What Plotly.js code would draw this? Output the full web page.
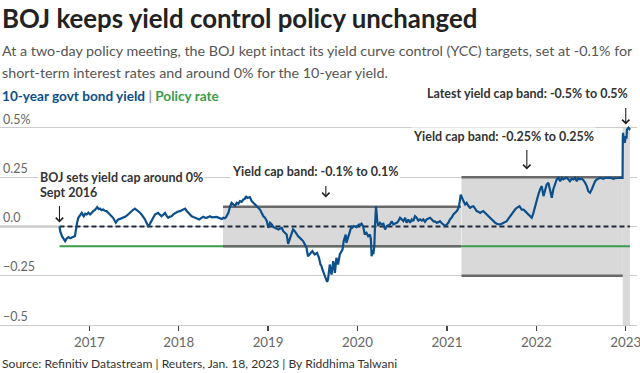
<!DOCTYPE html>
<html>
<head>
<meta charset="utf-8">
<script src="https://cdn.plot.ly/plotly-3.0.1.min.js"></script>
<style>
  html, body { margin: 0; padding: 0; background: #fff; }
  #chart { width: 640px; height: 373px; }
</style>
</head>
<body>
<div id="chart"></div>
<script>
// ---- Data ----
const yieldDates = [
'2016-09-01','2016-09-04','2016-09-11','2016-09-18','2016-09-24','2016-10-01','2016-10-08','2016-10-15','2016-10-21','2016-10-28',
'2016-11-03','2016-11-07','2016-11-12','2016-11-17','2016-11-24','2016-12-01','2016-12-09','2016-12-15','2016-12-21','2016-12-28',
'2017-01-04','2017-01-10','2017-01-17','2017-01-25','2017-02-02','2017-02-08','2017-02-13','2017-02-20','2017-02-27','2017-03-05',
'2017-03-12','2017-03-19','2017-03-26','2017-04-02','2017-04-08','2017-04-14','2017-04-19','2017-04-24','2017-04-29','2017-05-09',
'2017-05-19','2017-05-29','2017-06-08','2017-06-15','2017-06-22','2017-06-29','2017-07-06','2017-07-13','2017-07-20','2017-07-27',
'2017-08-02','2017-08-09','2017-08-16','2017-08-22','2017-08-29','2017-09-05','2017-09-12','2017-09-19','2017-09-26','2017-10-02',
'2017-10-09','2017-10-16','2017-10-23','2017-10-30','2017-11-06','2017-11-12','2017-11-19','2017-11-26','2017-12-03','2017-12-10',
'2017-12-17','2017-12-27','2018-01-06','2018-01-15','2018-01-27','2018-02-02','2018-02-09','2018-02-16','2018-02-23','2018-03-02',
'2018-03-09','2018-03-17','2018-03-26','2018-04-04','2018-04-11','2018-04-18','2018-04-25','2018-05-02','2018-05-09','2018-05-16',
'2018-05-22','2018-05-29','2018-06-05','2018-06-12','2018-06-19','2018-06-26','2018-07-02','2018-07-08','2018-07-13','2018-07-23',
'2018-07-30','2018-08-05','2018-08-12','2018-08-19','2018-08-26','2018-09-02','2018-09-08','2018-09-15','2018-09-22','2018-09-28',
'2018-10-03','2018-10-08','2018-10-12','2018-10-19','2018-10-26','2018-11-02','2018-11-09','2018-11-16','2018-11-22','2018-11-29',
'2018-12-06','2018-12-13','2018-12-20','2018-12-27','2019-01-02','2019-01-09','2019-01-16','2019-01-23','2019-01-29','2019-02-05',
'2019-02-12','2019-02-19','2019-02-26','2019-03-04','2019-03-11','2019-03-18','2019-03-24','2019-03-31','2019-04-07','2019-04-13',
'2019-04-20','2019-04-27','2019-05-04','2019-05-11','2019-05-17','2019-05-24','2019-05-31','2019-06-07','2019-06-13','2019-06-20',
'2019-06-26','2019-07-01','2019-07-06','2019-07-11','2019-07-20','2019-07-28','2019-08-03','2019-08-07','2019-08-11','2019-08-16',
'2019-08-21','2019-08-25','2019-08-30','2019-09-03','2019-09-06','2019-09-10','2019-09-14','2019-09-17','2019-09-21','2019-09-24',
'2019-09-28','2019-10-01','2019-10-04','2019-10-07','2019-10-11','2019-10-14','2019-10-18','2019-10-21','2019-10-26','2019-11-01',
'2019-11-06','2019-11-10','2019-11-14','2019-11-17','2019-11-20','2019-11-24','2019-11-28','2019-12-01','2019-12-05','2019-12-08',
'2019-12-12','2019-12-17','2019-12-22','2019-12-28','2020-01-03','2020-01-08','2020-01-13','2020-01-18','2020-01-24','2020-01-27',
'2020-01-31','2020-02-07','2020-02-14','2020-02-21','2020-02-25','2020-02-28','2020-03-03','2020-03-06','2020-03-10','2020-03-13',
'2020-03-17','2020-03-22','2020-03-26','2020-04-02','2020-04-09','2020-04-16','2020-04-23','2020-04-30','2020-05-07','2020-05-13',
'2020-05-20','2020-05-27','2020-06-03','2020-06-10','2020-06-16','2020-06-23','2020-06-30','2020-07-07','2020-07-14','2020-07-20',
'2020-07-27','2020-08-03','2020-08-10','2020-08-16','2020-08-23','2020-08-30','2020-09-06','2020-09-13','2020-09-20','2020-09-26',
'2020-10-03','2020-10-10','2020-10-17','2020-10-24','2020-10-31','2020-11-06','2020-11-13','2020-11-20','2020-11-27','2020-12-03',
'2020-12-10','2020-12-17','2020-12-24','2020-12-31','2021-01-07','2021-01-13','2021-01-20','2021-01-27','2021-02-03','2021-02-10',
'2021-02-15','2021-02-19','2021-02-26','2021-03-02','2021-03-09','2021-03-16','2021-03-22','2021-03-29','2021-04-05','2021-04-12',
'2021-04-19','2021-04-26','2021-05-02','2021-05-09','2021-05-16','2021-05-22','2021-05-29','2021-06-05','2021-06-12','2021-06-19',
'2021-06-26','2021-07-02','2021-07-09','2021-07-16','2021-07-23','2021-07-30','2021-08-05','2021-08-12','2021-08-19','2021-08-26',
'2021-09-02','2021-09-09','2021-09-16','2021-09-23','2021-09-29','2021-10-06','2021-10-13','2021-10-19','2021-10-24','2021-11-02',
'2021-11-09','2021-11-16','2021-11-23','2021-11-30','2021-12-06','2021-12-13','2021-12-20','2021-12-27','2022-01-02','2022-01-09',
'2022-01-16','2022-01-23','2022-01-30','2022-02-06','2022-02-12','2022-02-19','2022-02-26','2022-03-05','2022-03-11','2022-03-18',
'2022-03-25','2022-04-01','2022-04-08','2022-04-15','2022-04-21','2022-04-28','2022-05-05','2022-05-11','2022-05-18','2022-05-25',
'2022-06-01','2022-06-08','2022-06-15','2022-06-21','2022-06-28','2022-07-05','2022-07-12','2022-07-19','2022-07-26','2022-08-01',
'2022-08-08','2022-08-15','2022-08-22','2022-08-29','2022-09-05','2022-09-11','2022-09-18','2022-09-25','2022-10-02','2022-10-08',
'2022-10-15','2022-10-22','2022-10-29','2022-11-05','2022-11-12','2022-11-19','2022-11-25','2022-12-02','2022-12-09','2022-12-16',
'2022-12-19','2022-12-20','2022-12-21','2022-12-24','2022-12-28','2023-01-01','2023-01-04','2023-01-06','2023-01-10','2023-01-12',
'2023-01-16','2023-01-18'
];
const yieldValues = [
0.000,-0.024,-0.049,-0.060,-0.074,-0.060,-0.054,-0.060,-0.058,-0.052,
-0.049,-0.007,0.020,0.044,0.060,0.069,0.052,0.065,0.061,0.070,
0.061,0.070,0.078,0.085,0.098,0.088,0.091,0.083,0.086,0.080,
0.078,0.070,0.061,0.050,0.044,0.030,0.019,0.028,0.036,0.040,
0.044,0.050,0.061,0.070,0.078,0.085,0.091,0.085,0.078,0.070,
0.061,0.050,0.036,0.020,0.002,0.012,0.027,0.045,0.061,0.065,
0.069,0.060,0.052,0.060,0.069,0.055,0.044,0.050,0.052,0.062,
0.069,0.075,0.078,0.085,0.091,0.080,0.069,0.060,0.052,0.048,
0.044,0.040,0.036,0.044,0.049,0.045,0.044,0.048,0.052,0.046,
0.047,0.045,0.049,0.045,0.041,0.038,0.044,0.042,0.047,0.069,
0.103,0.120,0.112,0.105,0.120,0.115,0.129,0.125,0.137,0.140,
0.154,0.145,0.146,0.149,0.129,0.120,0.110,0.103,0.095,0.086,
0.069,0.052,0.044,0.027,-0.007,0.019,0.010,-0.003,-0.007,-0.010,
-0.015,-0.010,-0.007,-0.024,-0.035,-0.041,-0.088,-0.058,-0.037,-0.015,
-0.024,-0.041,-0.050,-0.058,-0.065,-0.074,-0.090,-0.108,-0.151,-0.142,
-0.130,-0.125,-0.135,-0.142,-0.134,-0.159,-0.193,-0.200,-0.218,-0.235,
-0.250,-0.261,-0.281,-0.269,-0.230,-0.193,-0.220,-0.244,-0.210,-0.176,
-0.200,-0.235,-0.200,-0.159,-0.175,-0.193,-0.165,-0.142,-0.130,-0.117,
-0.074,-0.060,-0.041,-0.083,-0.070,-0.058,-0.040,-0.024,-0.010,0.002,
-0.005,0.002,0.000,-0.003,0.005,0.010,0.008,0.014,0.002,-0.020,
-0.041,-0.032,-0.049,-0.041,-0.066,-0.151,-0.120,-0.140,-0.100,0.010,
0.103,0.027,0.002,0.019,0.010,0.014,-0.015,0.002,0.005,0.010,
0.027,0.010,0.015,0.019,0.027,0.044,0.036,0.027,0.044,0.019,
0.036,0.019,0.036,0.027,0.052,0.044,0.030,0.036,0.030,0.036,
0.024,0.036,0.040,0.044,0.035,0.027,0.025,0.019,0.022,0.027,
0.018,0.010,0.002,0.010,0.020,0.036,0.045,0.061,0.070,0.078,
0.090,0.103,0.162,0.146,0.129,0.112,0.120,0.105,0.095,0.100,
0.103,0.090,0.078,0.075,0.069,0.074,0.078,0.070,0.061,0.052,
0.044,0.035,0.027,0.020,0.014,0.012,0.010,0.014,0.019,0.022,
0.027,0.040,0.052,0.065,0.078,0.086,0.095,0.098,0.103,0.086,
0.086,0.078,0.069,0.060,0.052,0.044,0.069,0.103,0.137,0.162,
0.188,0.205,0.154,0.188,0.213,0.222,0.188,0.146,0.188,0.213,
0.239,0.247,0.230,0.247,0.239,0.245,0.247,0.240,0.230,0.242,
0.239,0.247,0.230,0.245,0.239,0.242,0.235,0.222,0.205,0.179,
0.171,0.188,0.213,0.230,0.239,0.243,0.247,0.245,0.242,0.246,
0.247,0.248,0.247,0.245,0.242,0.245,0.247,0.246,0.247,0.247,
0.247,0.450,0.475,0.440,0.425,0.459,0.445,0.492,0.500,0.501,
0.495,0.500
];

const policyDates = ['2016-09-01', '2023-01-18'];
const policyValues = [-0.1, -0.1];

// Yield cap bands
const bandStart = ['2018-07-01', '2021-03-01', '2022-12-20'];
const bandEnd   = ['2021-02-27', '2022-12-20', '2023-01-18'];
const bandLow   = [-0.1, -0.25, -0.5];
const bandHigh  = [0.1, 0.25, 0.5];
const bandLabels = ['Yield cap band: -0.1% to 0.1%', 'Yield cap band: -0.25% to 0.25%', 'Latest yield cap band: -0.5% to 0.5%'];

const capStartDate = '2016-09-01';
const yTickVals = [-0.5, -0.25, 0, 0.25, 0.5];
const yTickText = ['\u22120.5', '\u22120.25', '0.0', '0.25', '0.5%'];
const xTickVals = ['2017-01-01','2018-01-01','2019-01-01','2020-01-01','2021-01-01','2022-01-01','2023-01-01'];
const xTickText = ['2017','2018','2019','2020','2021','2022','2023'];

// ---- Styles ----
const FONT = 'Lato, "Open Sans", sans-serif';
const BLUE = '#0c4f8a';
const GREEN = '#3b9b4c';
const BANDLINE = '#696969';
const BANDFILL = '#d9d9d9';

const traces = [];
// policy rate
traces.push({x: policyDates, y: policyValues, type: 'scatter', mode: 'lines',
  line: {color: GREEN, width: 2}, hoverinfo: 'skip'});
// band top/bottom lines (first two bands)
for (let i = 0; i < 2; i++) {
  traces.push({x: [bandStart[i], bandEnd[i]], y: [bandHigh[i], bandHigh[i]], type: 'scatter', mode: 'lines',
    line: {color: BANDLINE, width: 2.5}, hoverinfo: 'skip'});
  traces.push({x: [bandStart[i], bandEnd[i]], y: [bandLow[i], bandLow[i]], type: 'scatter', mode: 'lines',
    line: {color: BANDLINE, width: 2.5}, hoverinfo: 'skip'});
}
// yield
traces.push({x: yieldDates, y: yieldValues, type: 'scatter', mode: 'lines',
  line: {color: BLUE, width: 2.2}, hoverinfo: 'skip'});

const shapes = [];
for (let i = 0; i < bandStart.length; i++) {
  shapes.push({type: 'rect', xref: 'x', yref: 'y', layer: 'between',
    x0: bandStart[i], x1: bandEnd[i], y0: bandLow[i], y1: bandHigh[i],
    fillcolor: BANDFILL, line: {width: 0}});
}
// zero line: solid before cap start, dashed after
shapes.push({type: 'line', xref: 'paper', yref: 'y', layer: 'between', x0: 0, x1: 0.0916, y0: 0, y1: 0,
  line: {color: '#666', width: 1.5}});
shapes.push({type: 'line', xref: 'x', yref: 'y', layer: 'between', x0: capStartDate, x1: yieldDates[yieldDates.length-1], y0: 0, y1: 0,
  line: {color: '#1f2b38', width: 2, dash: '5px,3px'}});

const ann = [];
function txt(o) { ann.push(Object.assign({showarrow: false, font: {family: FONT, size: 12.5, color: '#333'}}, o)); }

// header
txt({xref: 'paper', yref: 'paper', x: 0, y: 1.364, xanchor: 'left', yanchor: 'middle',
  text: '<b>BOJ keeps yield control policy unchanged</b>', font: {family: FONT, size: 25.8, color: '#222'}});
txt({xref: 'paper', yref: 'paper', x: 0, y: 1.2178, xanchor: 'left', yanchor: 'middle',
  text: 'At a two-day policy meeting, the BOJ kept intact its yield curve control (YCC) targets, set at -0.1% for',
  font: {family: FONT, size: 14.3, color: '#555'}});
txt({xref: 'paper', yref: 'paper', x: 0, y: 1.1244, xanchor: 'left', yanchor: 'middle',
  text: 'short-term interest rates and around 0% for the 10-year yield.',
  font: {family: FONT, size: 14.3, color: '#555'}});
txt({xref: 'paper', yref: 'paper', x: 0, y: 1.0178, xanchor: 'left', yanchor: 'middle',
  text: '<b><span style="color:' + BLUE + '">10-year govt bond yield</span> <span style="color:#999">|</span> <span style="color:' + GREEN + '">Policy rate</span></b>',
  font: {family: FONT, size: 13.6, color: BLUE}});
txt({xref: 'paper', yref: 'paper', x: 0, y: -0.169, xanchor: 'left', yanchor: 'middle',
  text: 'Source: Refinitiv Datastream | Reuters, Jan. 18, 2023 | By Riddhima Talwani',
  font: {family: FONT, size: 12.1, color: '#333'}});

// event annotations
txt({xref: 'x', yref: 'y', x: '2016-06-06', y: 0.25, xanchor: 'left', yanchor: 'middle',
  text: '<b>BOJ sets yield cap around 0%</b>', bgcolor: '#fff', borderpad: 1});
txt({xref: 'x', yref: 'y', x: '2016-06-06', y: 0.174, xanchor: 'left', yanchor: 'middle',
  text: '<b>Sept 2016</b>'});
txt({xref: 'x', yref: 'y', x: '2018-07-29', y: 0.279, xanchor: 'left', yanchor: 'middle',
  text: '<b>' + bandLabels[0] + '</b>', bgcolor: '#fff', borderpad: 1});
txt({xref: 'x', yref: 'y', x: '2020-08-05', y: 0.458, xanchor: 'left', yanchor: 'middle',
  text: '<b>' + bandLabels[1] + '</b>', bgcolor: '#fff', borderpad: 1});
txt({xref: 'x', yref: 'paper', x: '2023-01-18', y: 1.0267, xanchor: 'right', yanchor: 'middle',
  text: '<b>' + bandLabels[2] + '</b>'});

// arrows
function arrow(x, y, ay) {
  ann.push({xref: 'x', yref: 'y', x: x, y: y, ax: 0, ay: ay, text: '', showarrow: true,
    arrowhead: 4, arrowsize: 1.3, arrowwidth: 1.1, arrowcolor: '#222'});
}
arrow('2016-09-01', 0.02, -18);
arrow('2019-08-25', 0.147, -13);
arrow('2021-11-23', 0.289, -21);
arrow('2023-01-01', 0.518, -18);

const layout = {
  width: 640, height: 373,
  margin: {l: 0, r: 3, t: 100, b: 48, pad: 0},
  paper_bgcolor: '#fff', plot_bgcolor: '#fff',
  showlegend: false,
  font: {family: FONT},
  xaxis: {
    type: 'date', range: ['2016-01-02', '2023-02-16'],
    tickvals: xTickVals, ticktext: xTickText,
    ticks: 'outside', ticklen: 5, tickwidth: 1.5, tickcolor: '#444',
    ticklabeloverflow: 'allow',
    showline: true, linecolor: '#cccccc', linewidth: 1,
    showgrid: false, zeroline: false,
    tickfont: {family: FONT, size: 13.3, color: '#666'}
  },
  yaxis: {
    range: [-0.5, 0.642],
    tickvals: yTickVals, ticktext: yTickText,
    ticklabelposition: 'inside top',
    showgrid: true, gridcolor: '#cccccc', gridwidth: 1,
    zeroline: false, showline: false, ticks: '',
    tickfont: {family: FONT, size: 12.5, color: '#666'}
  },
  shapes: shapes,
  annotations: ann
};

Plotly.newPlot('chart', traces, layout, {staticPlot: true, displayModeBar: false});
</script>
</body>
</html>
